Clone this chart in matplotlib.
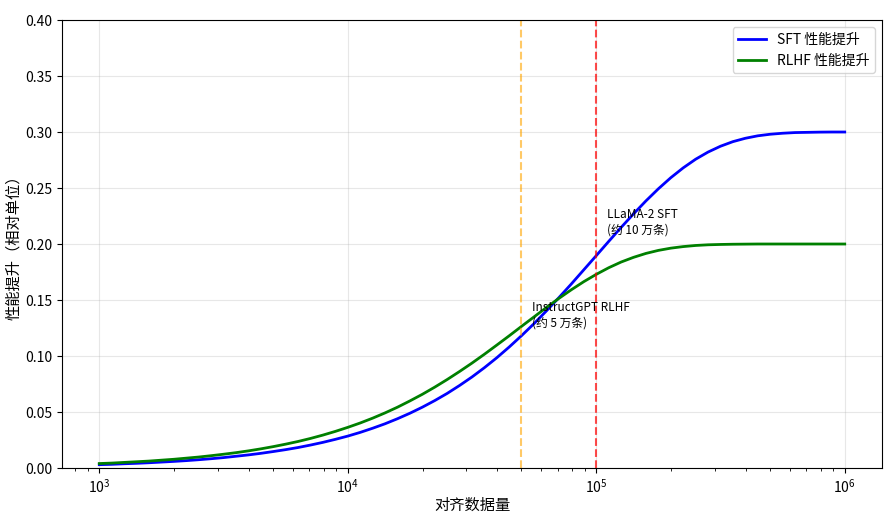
import matplotlib
matplotlib.use("Agg")
import matplotlib.pyplot as plt

plt.rcParams['font.family'] = ['Noto Sans CJK SC', 'DejaVu Sans']
plt.rcParams['axes.unicode_minus'] = False

# data size (samples), 0.05 decade steps from 1e3 to 1e6
data_size = [1000, 1122, 1259, 1413, 1585, 1778, 1995, 2239, 2512, 2818,
             3162, 3548, 3981, 4467, 5012, 5623, 6310, 7079, 7943, 8913,
             10000, 11220, 12589, 14125, 15849, 17783, 19953, 22387, 25119, 28184,
             31623, 35481, 39811, 44668, 50119, 56234, 63096, 70795, 79433, 89125,
             100000, 112202, 125893, 141254, 158489, 177828, 199526, 223872, 251189, 281838,
             316228, 354813, 398107, 446684, 501187, 562341, 630957, 707946, 794328, 891251,
             1000000]

# gain
sft_gain = [0.0030, 0.0033, 0.0038, 0.0042, 0.0047, 0.0053, 0.0059, 0.0066, 0.0074, 0.0083,
            0.0093, 0.0105, 0.0117, 0.0131, 0.0147, 0.0164, 0.0183, 0.0205, 0.0229, 0.0256,
            0.0285, 0.0318, 0.0355, 0.0395, 0.0440, 0.0489, 0.0543, 0.0602, 0.0666, 0.0737,
            0.0813, 0.0896, 0.0985, 0.1081, 0.1183, 0.1290, 0.1404, 0.1522, 0.1644, 0.1770,
            0.1896, 0.2023, 0.2148, 0.2269, 0.2385, 0.2493, 0.2592, 0.2680, 0.2757, 0.2821,
            0.2873, 0.2914, 0.2944, 0.2966, 0.2980, 0.2989, 0.2995, 0.2997, 0.2999, 0.3000,
            0.3000]
rlhf_gain = [0.0040, 0.0044, 0.0050, 0.0056, 0.0062, 0.0070, 0.0078, 0.0088, 0.0098, 0.0110,
             0.0123, 0.0137, 0.0153, 0.0171, 0.0191, 0.0213, 0.0237, 0.0264, 0.0294, 0.0327,
             0.0363, 0.0402, 0.0445, 0.0492, 0.0543, 0.0599, 0.0658, 0.0722, 0.0790, 0.0862,
             0.0937, 0.1016, 0.1098, 0.1181, 0.1266, 0.1350, 0.1434, 0.1515, 0.1592, 0.1664,
             0.1729, 0.1788, 0.1839, 0.1881, 0.1916, 0.1943, 0.1963, 0.1977, 0.1987, 0.1993,
             0.1996, 0.1998, 0.1999, 0.2000, 0.2000, 0.2000, 0.2000, 0.2000, 0.2000, 0.2000,
             0.2000]

# reference points
instructgpt_n = 5e4
llama2_n = 1e5

fig = plt.figure(figsize=(8.91, 5.21), dpi=100)
ax = fig.add_axes([0.0696, 0.1017, 0.9203, 0.8599])

ax.plot(data_size, sft_gain, color='blue', linewidth=2, label='SFT 性能提升')
ax.plot(data_size, rlhf_gain, color='green', linewidth=2, label='RLHF 性能提升')

ax.axvline(instructgpt_n, color='orange', linestyle='--', alpha=0.6)
ax.axvline(llama2_n, color='red', linestyle='--', alpha=0.7)

ax.text(instructgpt_n * 1.1, 0.149, 'InstructGPT RLHF\n(约 5 万条)', fontsize=8.5, va='top')
ax.text(llama2_n * 1.1, 0.232, 'LLaMA-2 SFT\n(约 10 万条)', fontsize=8.5, va='top')

ax.set_xscale('log')
ax.set_ylim(0, 0.4)
ax.set_xlabel('对齐数据量', fontsize=11, labelpad=1)
ax.set_ylabel('性能提升（相对单位）', fontsize=11, labelpad=2)
ax.grid(True, alpha=0.3)
ax.legend(loc='upper right')

fig.savefig('out.png', dpi=100)
